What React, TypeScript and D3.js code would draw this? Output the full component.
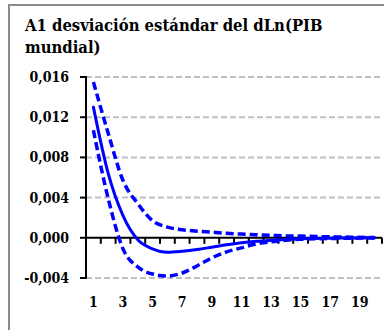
import React from "react";
import * as d3 from "d3";

const title1 = "A1 desviación estándar del dLn(PIB";
const title2 = "mundial)";
const periods = d3.range(1, 21);
const xTickLabels = ["1", "3", "5", "7", "9", "11", "13", "15", "17", "19"];
const yTicks = [-0.004, 0, 0.004, 0.008, 0.012, 0.016];
const yTickLabels = ["-0,004", "0,000", "0,004", "0,008", "0,012", "0,016"];

const center = [0.0130, 0.0064, 0.0022, -0.0002, -0.0011, -0.00144, -0.00134, -0.00117, -0.00094, -0.0007, -0.0005, -0.00035, -0.00025, -0.00017, -0.0001, -0.00007, -0.00004, -0.00002, -0.00001, 0];
const upper = [0.0155, 0.0104, 0.0057, 0.0034, 0.0017, 0.00106, 0.0008, 0.00066, 0.00056, 0.00045, 0.00037, 0.0003, 0.00025, 0.0002, 0.00017, 0.00013, 0.0001, 0.00007, 0.00005, 0.00003];
const lower = [0.0107, 0.0039, -0.0011, -0.0029, -0.0036, -0.0038, -0.0035, -0.0028, -0.0020, -0.0014, -0.0010, -0.0006, -0.0004, -0.00025, -0.00015, -0.0001, -0.00007, -0.00005, -0.00003, -0.00002];

export default function App() {
  const W = 384, H = 330;
  const x = d3.scaleBand<number>().domain(periods).range([86, 382]).padding(0);
  const y = d3.scaleLinear().domain([-0.004, 0.016]).range([278, 77]);
  const cx = (p: number) => (x(p) as number) + x.bandwidth() / 2;
  const line = d3.line<number>().x((_, i) => cx(periods[i])).y((d) => y(d)).curve(d3.curveMonotoneX);
  const font = "'DejaVu Serif Condensed', 'DejaVu Serif', serif";
  const [x0, x1] = x.range();
  return (
    <svg width={W} height={H} style={{ position: "absolute", left: 0, top: 0 }}>
      <rect x={0} y={0} width={W} height={H} fill="#fff" />
      <rect x={9} y={5} width={W + 20} height={H + 20} fill="#fff" stroke="#8c8c8c" strokeWidth={2} />
      <text x={25} y={31} fontFamily={font} fontWeight="bold" fontSize={16.5} fill="#000">{title1}</text>
      <text x={25} y={53} fontFamily={font} fontWeight="bold" fontSize={16.5} fill="#000">{title2}</text>
      {yTicks.map((t) => t !== 0 && (
        <line key={"g" + t} x1={x0} x2={x1} y1={y(t)} y2={y(t)} stroke="#c0c0c0" strokeWidth={2} strokeDasharray="6,3" />
      ))}
      {yTicks.map((t, i) => (
        <g key={"t" + t}>
          <line x1={80} x2={x0} y1={y(t)} y2={y(t)} stroke="#000" strokeWidth={2} />
          <text x={69} y={y(t) + 5} textAnchor="end" fontFamily={font} fontWeight="bold" fontSize={14} fill="#000">{yTickLabels[i]}</text>
        </g>
      ))}
      {periods.map((p) => (
        <line key={"xt" + p} x1={(x(p) as number) + x.bandwidth()} x2={(x(p) as number) + x.bandwidth()} y1={y(0)} y2={y(0) + 6} stroke="#000" strokeWidth={2} />
      ))}
      <line x1={x0} x2={x1} y1={y(0)} y2={y(0)} stroke="#000" strokeWidth={2} />
      <line x1={x0} x2={x0} y1={y(0.016) - 1} y2={y(-0.004) + 1} stroke="#000" strokeWidth={2} />
      {xTickLabels.map((l) => (
        <text key={"xl" + l} x={cx(+l)} y={307} textAnchor="middle" fontFamily={font} fontWeight="bold" fontSize={14} fill="#000">{l}</text>
      ))}
      <path d={line(upper) || ""} fill="none" stroke="#0000ff" strokeWidth={3.5} strokeDasharray="8,4" />
      <path d={line(lower) || ""} fill="none" stroke="#0000ff" strokeWidth={3.5} strokeDasharray="8,4" />
      <path d={line(center) || ""} fill="none" stroke="#0000ff" strokeWidth={3} strokeLinecap="round" />
    </svg>
  );
}
